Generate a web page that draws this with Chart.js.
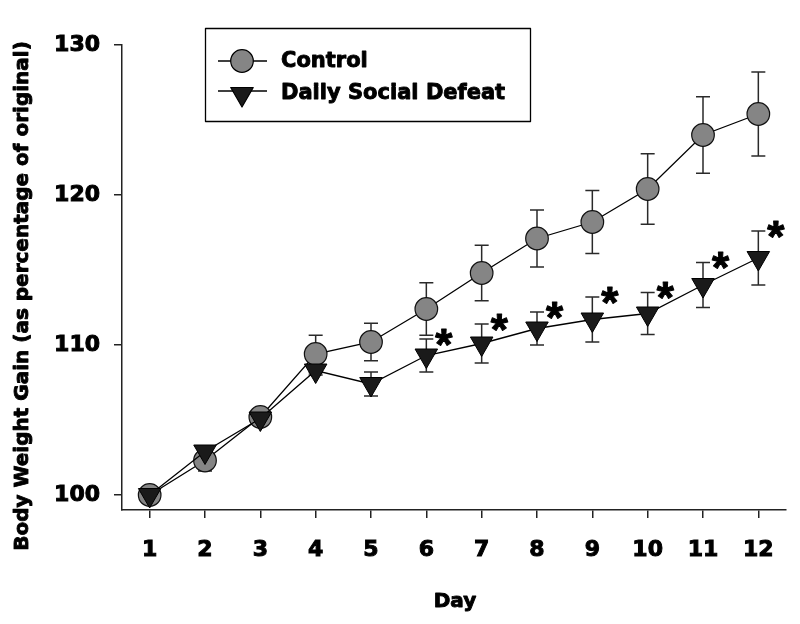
<!DOCTYPE html>
<html><head><meta charset="utf-8">
<script src="https://cdn.jsdelivr.net/npm/chart.js@4.4.1/dist/chart.umd.min.js"></script>
<style>html,body{margin:0;padding:0;background:#fff}#wrap{width:800px;height:624px}</style>
</head><body><div id="wrap"><canvas id="c" width="800" height="624"></canvas></div>
<script>
const days = [1,2,3,4,5,6,7,8,9,10,11,12];
const dayLabels = ['1','2','3','4','5','6','7','8','9','10','11','12'];
const yTickValues = [100,110,120,130];
const controlMean = [100.0,102.3,105.2,109.4,110.2,112.4,114.8,117.1,118.2,120.4,124.0,125.4];
const controlSem  = [0.0,0.7,0.3,1.25,1.25,1.75,1.85,1.9,2.1,2.35,2.55,2.8];
const defeatMean  = [100.0,102.9,105.1,108.3,107.4,109.3,110.1,111.1,111.7,112.1,114.0,115.8];
const defeatSem   = [0.0,0.2,0.3,0.3,0.8,1.1,1.3,1.1,1.5,1.4,1.5,1.8];
const defeatSignificant = [false,false,false,false,false,true,true,true,true,true,true,true];
const seriesNames = ['Control','Daily Social Defeat'];
const xTitle = 'Day';
const yTitle = 'Body Weight Gain (as percentage of original)';

const FONT = '"DejaVu Sans", sans-serif';

function heavyText(ctx, text, x, y, sw) {
  ctx.lineWidth = sw;
  ctx.strokeStyle = '#000';
  ctx.lineJoin = 'round';
  ctx.strokeText(text, x, y);
  ctx.fillText(text, x, y);
}

const errorBars = {
  id: 'errorBars',
  beforeDatasetsDraw(chart) {
    const {ctx, scales: {x, y}} = chart;
    ctx.save();
    ctx.strokeStyle = '#2a2a2a';
    ctx.lineWidth = 1.5;
    const draw = (means, sems) => {
      means.forEach((m, i) => {
        const s = sems[i];
        if (!s) return;
        const px = x.getPixelForValue(days[i]);
        const t = y.getPixelForValue(m + s), b = y.getPixelForValue(m - s);
        ctx.beginPath();
        ctx.moveTo(px, t); ctx.lineTo(px, b);
        ctx.moveTo(px - 7, t); ctx.lineTo(px + 7, t);
        ctx.moveTo(px - 7, b); ctx.lineTo(px + 7, b);
        ctx.stroke();
      });
    };
    draw(controlMean, controlSem);
    draw(defeatMean, defeatSem);
    ctx.restore();
  }
};

const extras = {
  id: 'extras',
  afterDraw(chart) {
    const {ctx, scales: {x, y}} = chart;
    ctx.save();
    // significance asterisks
    ctx.fillStyle = '#000';
    ctx.font = 'bold 44px "Liberation Sans", Arial, sans-serif';
    ctx.textAlign = 'left';
    ctx.textBaseline = 'alphabetic';
    const m = ctx.measureText('*');
    defeatSignificant.forEach((sig, i) => {
      if (!sig) return;
      const cx = x.getPixelForValue(days[i]) + 18;
      const cy = y.getPixelForValue(defeatMean[i] + defeatSem[i]) - 2;
      const w = m.actualBoundingBoxRight + m.actualBoundingBoxLeft;
      const bx = cx - w / 2 + m.actualBoundingBoxLeft;
      const by = cy + (m.actualBoundingBoxAscent - m.actualBoundingBoxDescent) / 2;
      heavyText(ctx, '*', bx, by, 1);
    });

    // legend
    ctx.strokeStyle = '#000';
    ctx.lineWidth = 1.3;
    ctx.strokeRect(205.5, 28.5, 325, 93);
    const rows = [
      {y: 61, my: 61, style: 'circle', r: 11.3, fill: '#858585', text: seriesNames[0], ty: 67},
      {y: 91, my: 94, style: 'triangle', r: 13, fill: '#1a1a1a', text: seriesNames[1], ty: 99}
    ];
    rows.forEach(row => {
      ctx.strokeStyle = '#000';
      ctx.lineWidth = 1.3;
      ctx.beginPath(); ctx.moveTo(218, row.y); ctx.lineTo(267, row.y); ctx.stroke();
      ctx.fillStyle = row.fill;
      ctx.lineWidth = 1.2;
      Chart.helpers.drawPoint(ctx, {pointStyle: row.style, radius: row.r, rotation: row.style === 'triangle' ? 180 : 0, borderWidth: 1.2}, 242, row.my);
      ctx.fillStyle = '#000';
      ctx.font = 'bold 21px ' + FONT;
      ctx.textAlign = 'left';
      ctx.textBaseline = 'alphabetic';
      heavyText(ctx, row.text, 281, row.ty, 0.9);
    });

    // axis titles
    ctx.fillStyle = '#000';
    ctx.font = 'bold 20px ' + FONT;
    ctx.textAlign = 'center';
    ctx.textBaseline = 'alphabetic';
    heavyText(ctx, xTitle, 455, 607, 0.9);
    ctx.translate(28, 296);
    ctx.rotate(-Math.PI / 2);
    heavyText(ctx, yTitle, 0, 0, 0.9);
    ctx.restore();
  }
};

const tickFont = {family: FONT, size: 22, weight: 'bold'};

new Chart(document.getElementById('c'), {
  type: 'line',
  data: {
    datasets: [
      {
        label: seriesNames[0],
        data: days.map((d, i) => ({x: d, y: controlMean[i]})),
        borderColor: '#000', borderWidth: 1.3, tension: 0,
        pointStyle: 'circle', pointRadius: 11.3, pointBackgroundColor: '#858585',
        pointBorderColor: '#111', pointBorderWidth: 1.2, order: 2
      },
      {
        label: seriesNames[1],
        data: days.map((d, i) => ({x: d, y: defeatMean[i]})),
        borderColor: '#000', borderWidth: 1.3, tension: 0,
        pointStyle: 'triangle', pointRotation: 180, pointRadius: 13, pointBackgroundColor: '#1a1a1a',
        pointBorderColor: '#000', pointBorderWidth: 1, order: 1
      }
    ]
  },
  options: {
    responsive: false, animation: false, devicePixelRatio: 1,
    layout: {padding: {left: 0, right: 13, top: 45, bottom: 0}},
    plugins: {legend: {display: false}, tooltip: {enabled: false}},
    scales: {
      x: {
        type: 'linear', min: 0.5, max: 12.5,
        afterBuildTicks: ax => { ax.ticks = days.map(v => ({value: v})); },
        afterFit: ax => { ax.height = 114; },
        ticks: {
          callback: v => dayLabels[days.indexOf(v)],
          font: tickFont, color: '#000', textStrokeColor: '#000', textStrokeWidth: 1,
          padding: 19, autoSkip: false, maxRotation: 0
        },
        grid: {display: true, drawOnChartArea: false, drawTicks: true, tickLength: 8, color: '#222', lineWidth: 1.5},
        border: {display: true, color: '#222', width: 1.5}
      },
      y: {
        type: 'linear', min: 99, max: 130,
        afterBuildTicks: ax => { ax.ticks = yTickValues.map(v => ({value: v})); },
        afterFit: ax => { ax.width = 122; },
        ticks: {
          callback: v => String(v),
          font: tickFont, color: '#000', textStrokeColor: '#000', textStrokeWidth: 1, padding: 14
        },
        grid: {display: true, drawOnChartArea: false, drawTicks: true, tickLength: 8, color: '#222', lineWidth: 1.5},
        border: {display: true, color: '#222', width: 1.5}
      }
    }
  },
  plugins: [errorBars, extras]
});
</script>
</body></html>
